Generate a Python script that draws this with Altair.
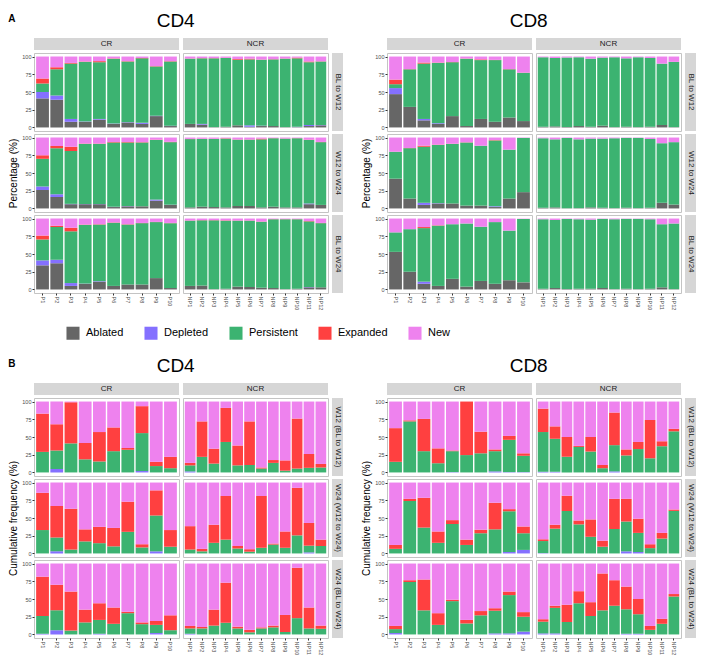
import altair as alt
import pandas as pd

FONT = "Liberation Sans"
CATS = ["Ablated", "Depleted", "Persistent", "Expanded", "New"]
COLORS = ["#666666", "#8470FF", "#3CB371", "#FF4040", "#EE82EE"]
CR_IDS = ["P1", "P2", "P3", "P4", "P5", "P6", "P7", "P8", "P9", "P10"]
NCR_IDS = ["NP1", "NP2", "NP3", "NP4", "NP5", "NP6", "NP7", "NP8", "NP9", "NP10", "NP11", "NP12"]
ROWS_A = ["BL to W12", "W12 to W24", "BL to W24"]
ROWS_B = ["W12 (BL to W12)", "W24 (W12 to W24)", "W24 (BL to W24)"]

# ---------------- Panel A : Percentage (%) ----------------
A_CD4_CR = {
    "BL to W12": {
        "Ablated":    [41, 39, 8, 8, 11, 5, 7, 5, 16, 2],
        "Depleted":   [9, 6, 4, 0.5, 1, 0.5, 0.5, 1.5, 0.5, 0.5],
        "Persistent": [12, 37, 78, 84, 80, 91.5, 85.5, 91, 69.5, 90.5],
        "Expanded":   [7, 3, 1, 0.5, 1.5, 0.5, 0.5, 0.5, 0.5, 0.5],
        "New":        [31, 15, 9, 7, 6.5, 2.5, 6.5, 2, 13.5, 6.5],
    },
    "W12 to W24": {
        "Ablated":    [26, 16, 6, 6, 6, 2, 3, 3, 11, 5],
        "Depleted":   [5, 4, 0.5, 0.3, 0.3, 0.3, 0.3, 0, 1.5, 0.3],
        "Persistent": [39, 65, 74.5, 84.7, 84.7, 90.7, 89.7, 90, 84, 88.2],
        "Expanded":   [5, 3, 6, 0.5, 0.5, 0.7, 0.7, 0.5, 0.5, 0.5],
        "New":        [25, 12, 13, 8.5, 8.5, 6.3, 6.3, 6.5, 3, 6],
    },
    "BL to W24": {
        "Ablated":    [34, 37, 5, 8, 11, 5, 7, 7, 16, 2],
        "Depleted":   [7, 5, 4, 0.3, 0.7, 0, 0, 0, 0, 0],
        "Persistent": [29.5, 46, 73, 82.7, 79.8, 89, 84.5, 86.5, 79, 91.5],
        "Expanded":   [5.5, 2, 5, 0.5, 0.5, 0.5, 0.5, 0.3, 0.3, 0.3],
        "New":        [24, 10, 13, 8.5, 8, 5.5, 8, 6.2, 4.7, 6.2],
    },
}
A_CD4_NCR = {
    "BL to W12": {
        "Ablated":    [5, 4, 0.5, 1, 3, 1, 2, 2, 0.5, 0.5, 2, 3],
        "Depleted":   [0, 1, 0, 0, 0, 2, 0.5, 0, 0, 0.5, 1.5, 0.5],
        "Persistent": [92, 92.5, 97, 97, 92.5, 93, 93, 94, 96.5, 96.5, 88.5, 89.5],
        "Expanded":   [0.3, 0.3, 0.3, 0.3, 1, 1, 0.3, 0.3, 0.3, 1, 1, 0.3],
        "New":        [2.7, 2.2, 2.2, 1.7, 3.5, 3, 4.2, 3.7, 2.7, 1.5, 7, 6.7],
    },
    "W12 to W24": {
        "Ablated":    [1.5, 2.5, 2, 1.5, 3.5, 3.5, 1.5, 2.5, 1.5, 1.5, 6, 5],
        "Depleted":   [0, 0, 0, 0, 0, 0, 0, 0, 0, 0, 1, 0],
        "Persistent": [96.3, 95.5, 96, 97, 93.5, 93.5, 96, 96.5, 97, 97.5, 89.5, 88.5],
        "Expanded":   [0.3, 0.3, 0.3, 0.5, 0.3, 0.3, 1, 0.2, 0.2, 0.2, 0.5, 0.3],
        "New":        [1.9, 1.7, 1.7, 1, 2.7, 2.7, 1.5, 0.8, 1.3, 0.8, 3, 6.2],
    },
    "BL to W24": {
        "Ablated":    [5, 5.5, 0.5, 1, 4, 3.5, 2.5, 2, 0.5, 1, 3, 3],
        "Depleted":   [0, 0, 0, 0, 0, 0, 0, 0, 0, 0, 0.5, 0],
        "Persistent": [92, 92, 97, 96, 93, 93.5, 93, 97, 98.5, 98, 92.5, 90.5],
        "Expanded":   [0.3, 0.3, 0.3, 0.5, 0.3, 0.3, 0.3, 0.2, 0.2, 0.2, 0.5, 0.3],
        "New":        [2.7, 2.2, 2.2, 2.5, 2.7, 2.7, 4.2, 0.8, 0.8, 0.8, 3.5, 6.2],
    },
}
A_CD8_CR = {
    "BL to W12": {
        "Ablated":    [47, 29, 10, 5, 16, 2, 12, 8, 14, 9],
        "Depleted":   [8.5, 0, 2, 1, 0, 0, 0, 0, 0, 0],
        "Persistent": [5.5, 53, 78, 85, 76, 95, 83, 87, 68, 68],
        "Expanded":   [6.5, 0.3, 1.5, 0.5, 0.3, 0.3, 1, 0.3, 0.3, 0.3],
        "New":        [32.5, 17.7, 8.5, 8.5, 7.7, 2.7, 4, 4.7, 17.7, 22.7],
    },
    "W12 to W24": {
        "Ablated":    [42, 14, 5, 7, 7, 4, 4, 2, 14, 23],
        "Depleted":   [0, 0, 3, 0.5, 0, 0, 0, 1, 0, 0],
        "Persistent": [38, 71, 79, 82, 84, 89, 84.5, 93, 69, 76.5],
        "Expanded":   [0, 0.3, 1.5, 0.5, 0.3, 0.3, 0, 0.5, 0, 0],
        "New":        [20, 14.7, 11.5, 10, 8.7, 6.7, 11.5, 3.5, 17, 0.5],
    },
    "BL to W24": {
        "Ablated":    [53, 25, 8, 5, 15, 4, 12, 8, 13, 10],
        "Depleted":   [0, 0, 3, 0, 0, 0, 0, 0, 0, 0],
        "Persistent": [27.5, 60, 75.5, 85, 77, 89, 76.5, 87, 70, 89.5],
        "Expanded":   [0, 0, 1.5, 0.5, 0, 0, 0, 0, 0, 0],
        "New":        [19.5, 15, 12, 9.5, 8, 7, 11.5, 5, 17, 0.5],
    },
}
A_CD8_NCR = {
    "BL to W12": {
        "Ablated":    [1, 1.5, 0.5, 2, 1, 2.5, 0.5, 1, 0.5, 1, 3.5, 0.5],
        "Depleted":   [0, 0, 0, 0, 0, 0, 0, 0, 0, 0, 0, 0],
        "Persistent": [98, 96.5, 98, 97, 96, 96, 98.5, 96.5, 98.5, 97, 86.5, 92],
        "Expanded":   [0, 0, 0, 0, 0, 0, 0, 0, 0, 0, 0, 0],
        "New":        [1, 2, 1.5, 1, 3, 1.5, 1, 2.5, 1, 2, 10, 7.5],
    },
    "W12 to W24": {
        "Ablated":    [1, 1.5, 0.3, 0.5, 1.5, 1, 0.5, 1, 0.5, 1, 8, 5.5],
        "Depleted":   [0, 0, 0, 0, 0, 0, 0, 0, 0, 0, 0, 0],
        "Persistent": [98, 96, 99.2, 97, 97, 97.5, 98.5, 98.5, 99, 97, 84, 88],
        "Expanded":   [0, 0, 0, 0, 0, 0, 0, 0, 0, 0, 0, 0],
        "New":        [1, 2.5, 0.5, 2.5, 1.5, 1.5, 1, 0.5, 0.5, 2, 8, 6.5],
    },
    "BL to W24": {
        "Ablated":    [1, 2, 0.5, 1, 1, 2, 0.5, 1, 0.5, 1, 3, 0.5],
        "Depleted":   [0, 0, 0, 0, 0, 0, 0, 0, 0, 0, 0, 0],
        "Persistent": [98, 96, 99, 98, 97.5, 97.5, 98.5, 98.5, 99, 98, 89, 92.5],
        "Expanded":   [0, 0, 0, 0, 0, 0, 0, 0, 0, 0, 0, 0],
        "New":        [1, 2, 0.5, 1, 1.5, 0.5, 1, 0.5, 0.5, 1, 8, 7],
    },
}

# ---------------- Panel B : Cumulative frequency (%) ----------------
B_CD4_CR = {
    "W12 (BL to W12)": {
        "Depleted":   [0, 5, 0, 0, 0, 0, 0, 2, 0, 0],
        "Persistent": [29, 26, 41, 18.5, 15.5, 30, 32, 53.5, 9, 6],
        "Expanded":   [54, 37, 58, 23, 41.5, 33.5, 2.5, 38, 6, 16],
        "New":        [17, 32, 1, 58.5, 43, 36.5, 65.5, 6.5, 85, 78],
    },
    "W24 (W12 to W24)": {
        "Depleted":   [0, 3, 0, 0, 0, 0, 0, 0, 3, 0],
        "Persistent": [33, 19.5, 5.5, 17, 14.5, 10, 30.5, 8.5, 50.5, 9.5],
        "Expanded":   [52.5, 44.5, 57.5, 17, 23, 26, 42.5, 4.5, 35.5, 23.5],
        "New":        [14.5, 33, 37, 66, 62.5, 64, 27, 87, 11, 67],
    },
    "W24 (BL to W24)": {
        "Depleted":   [1, 6, 0, 0, 1, 0, 0, 0, 2, 0],
        "Persistent": [25, 28, 5.5, 17, 19.5, 15, 30, 14.5, 11.5, 6],
        "Expanded":   [55.5, 36, 55, 18, 23.5, 23, 2, 2.5, 5.5, 21],
        "New":        [18.5, 30, 39.5, 65, 56, 62, 68, 83, 81, 73],
    },
}
B_CD4_NCR = {
    "W12 (BL to W12)": {
        "Depleted":   [1.5, 0, 0, 0, 0, 0, 0, 0, 0, 0, 0, 0],
        "Persistent": [8.5, 22, 12.5, 43, 10, 10.5, 5.5, 13.5, 2.5, 5.5, 6.5, 7],
        "Expanded":   [3.5, 50, 21, 48, 28, 61.5, 1.5, 4, 14.5, 70.5, 19.5, 5],
        "New":        [86.5, 28, 66.5, 9, 62, 28, 93, 82.5, 83, 24, 74, 88],
    },
    "W24 (W12 to W24)": {
        "Depleted":   [0, 0, 0, 0, 0, 0, 0, 0, 0, 0, 1.5, 0],
        "Persistent": [5.5, 3, 15, 19.5, 7, 2.5, 8, 12.5, 8, 25.5, 9.5, 10.5],
        "Expanded":   [33, 3.5, 25.5, 61.5, 3.5, 3.5, 73, 1.5, 23, 67, 32, 9],
        "New":        [61.5, 93.5, 59.5, 19, 89.5, 94, 19, 86, 69, 7.5, 57, 80.5],
    },
    "W24 (BL to W24)": {
        "Depleted":   [1, 0, 0, 0, 0, 0, 0, 0, 0, 0, 0, 0],
        "Persistent": [7.5, 8.5, 12.5, 16.5, 8.5, 3, 8.5, 10, 3.5, 23, 8.5, 8],
        "Expanded":   [3.5, 2, 22.5, 56.5, 2.5, 3.5, 1.5, 2.5, 24, 71, 29.5, 4.5],
        "New":        [88, 89.5, 65, 27, 89, 93.5, 90, 87.5, 72.5, 6, 62, 87.5],
    },
}
B_CD8_CR = {
    "W12 (BL to W12)": {
        "Depleted":   [0, 0, 0, 0, 0.5, 0, 0, 1.5, 0.5, 0.5],
        "Persistent": [15, 72, 30, 13, 29.5, 24.5, 27, 28.5, 45.5, 23],
        "Expanded":   [47.5, 1.5, 45.5, 21, 1, 75.5, 30.5, 2.5, 5.5, 3.5],
        "New":        [37.5, 26.5, 24.5, 66, 69, 0, 42.5, 67.5, 48.5, 73],
    },
    "W24 (W12 to W24)": {
        "Depleted":   [0, 0, 0, 0, 0, 0, 0, 0, 2, 5],
        "Persistent": [6.5, 74, 36.5, 15, 41.5, 12, 28.5, 34, 57.5, 23.5],
        "Expanded":   [5.5, 3, 42, 16, 5.5, 7.5, 5, 37.5, 3, 9.5],
        "New":        [88, 23, 21.5, 69, 53, 80.5, 66.5, 28.5, 37.5, 62],
    },
    "W24 (BL to W24)": {
        "Depleted":   [2, 0, 0, 0, 0, 0, 0, 1.5, 1.5, 4],
        "Persistent": [5.5, 74, 34, 13.5, 47, 15.5, 27, 32, 54, 21],
        "Expanded":   [4.5, 2.5, 43.5, 16.5, 2, 5, 6, 3.5, 5, 6.5],
        "New":        [88, 23.5, 22.5, 70, 51, 79.5, 67, 63, 39.5, 68.5],
    },
}
B_CD8_NCR = {
    "W12 (BL to W12)": {
        "Depleted":   [1, 1, 0, 0, 0, 0, 1.5, 0, 0, 0, 0, 0],
        "Persistent": [56, 46.5, 22, 36, 29.5, 6, 37, 24, 33, 20, 37, 58],
        "Expanded":   [33, 17.5, 28, 1.5, 20.5, 4.5, 46, 8.5, 10, 54, 7, 3.5],
        "New":        [10, 35, 50, 62.5, 50, 89.5, 15.5, 67.5, 57, 26, 56, 38.5],
    },
    "W24 (W12 to W24)": {
        "Depleted":   [0.5, 0, 0, 0, 0, 0, 0, 3, 2, 0, 0, 0],
        "Persistent": [17, 35, 60, 41, 23.5, 9.5, 34.5, 42, 27, 7.5, 21, 60],
        "Expanded":   [2.5, 5.5, 21.5, 5.5, 24.5, 8.5, 42.5, 32, 20, 5.5, 8, 2],
        "New":        [80, 59.5, 18.5, 53.5, 52, 82, 23, 23, 51, 87, 71, 38],
    },
    "W24 (BL to W24)": {
        "Depleted":   [1.5, 1.5, 0, 0, 0, 0, 0, 1, 1, 0, 0, 0],
        "Persistent": [16.5, 36, 17.5, 44, 26, 34, 40.5, 34.5, 27.5, 6.5, 15, 53.5],
        "Expanded":   [3.5, 3, 24.5, 17, 19.5, 52, 36, 32, 21.5, 5.5, 7, 3.5],
        "New":        [78.5, 59.5, 58, 39, 54.5, 14, 23.5, 32.5, 50, 88, 78, 43],
    },
}

# ---------------- layout constants ----------------
W = 145      # facet cell width
H = 78       # facet cell height
SH = 12      # strip height
SW = 11      # row strip width
STRIP_FILL = "#D6D6D6"
BORDER = "#C4C4C4"


def to_long(data, ids):
    recs = []
    for rlab, series in data.items():
        for cat, vals in series.items():
            for pid, v in zip(ids, vals):
                recs.append({"row": rlab, "patient": pid, "category": cat,
                             "value": v, "ord": CATS.index(cat)})
    return pd.DataFrame(recs)


LEGEND = alt.Legend(orient="none", legendX=32, legendY=288,
                    direction="horizontal", title=None,
                    symbolType="square", symbolSize=170, symbolStrokeWidth=0,
                    labelFontSize=11, labelFont=FONT, labelOffset=6,
                    columnPadding=20)


def cell(df, ids, show_x, show_y, ytitle, with_legend):
    x_axis = alt.Axis(labelAngle=90, labelFontSize=5.5, labelColor="#4D4D4D",
                      tickSize=2, tickColor="#333333", labelPadding=1,
                      domain=False, title=None, labelFont=FONT) if show_x else None
    y_axis = alt.Axis(values=[0, 25, 50, 75, 100], labelFontSize=5.5,
                      labelColor="#4D4D4D", tickSize=2, tickColor="#333333",
                      labelPadding=1, domain=False, grid=False,
                      title=ytitle, titleFontSize=10, titleFont=FONT,
                      titleFontWeight="normal", titleColor="#000000",
                      titlePadding=3, labelFont=FONT) if show_y else None
    return alt.Chart(df).mark_bar().encode(
        x=alt.X("patient:N", sort=ids, axis=x_axis,
                scale=alt.Scale(paddingInner=0.1, paddingOuter=0.15)),
        y=alt.Y("value:Q", stack="zero", axis=y_axis,
                scale=alt.Scale(domain=[-5, 105], nice=False, zero=False)),
        color=alt.Color("category:N", scale=alt.Scale(domain=CATS, range=COLORS),
                        legend=LEGEND if with_legend else None),
        order=alt.Order("ord:Q", sort="ascending"),
    ).properties(width=W, height=H,
                 view=alt.ViewBackground(stroke=BORDER, strokeWidth=1, fill="white"))


def strip(label, w, h, angle):
    return alt.Chart(pd.DataFrame({"t": [label]})).mark_text(
        angle=angle, fontSize=8, color="#1A1A1A", font=FONT, baseline="middle"
    ).encode(text="t:N").properties(
        width=w, height=h, view=alt.ViewBackground(fill=STRIP_FILL, stroke=None))


def blank(w, h):
    return alt.Chart(pd.DataFrame({"t": [""]})).mark_text().encode(
        text="t:N").properties(width=w, height=h,
                               view=alt.ViewBackground(stroke=None, fill=None))


def panel(title, d_cr, d_ncr, rows, ytitle, with_legend):
    df_cr = to_long(d_cr, CR_IDS)
    df_ncr = to_long(d_ncr, NCR_IDS)
    charts = [strip("CR", W, SH, 0), strip("NCR", W, SH, 0), blank(SW, SH)]
    for i, r in enumerate(rows):
        last = i == len(rows) - 1
        charts.append(cell(df_cr[df_cr["row"] == r], CR_IDS, last, True,
                           ytitle if i == 1 else None, with_legend))
        charts.append(cell(df_ncr[df_ncr["row"] == r], NCR_IDS, last, False,
                           None, with_legend))
        charts.append(strip(r, SW, H, 90))
    return alt.concat(*charts, columns=3, bounds="flush",
                      spacing={"row": 3, "column": 4},
                      title=alt.TitleParams(title, fontSize=19, font=FONT,
                                            fontWeight="normal", color="#000000",
                                            anchor="middle", offset=7))


rowA = alt.hconcat(
    panel("CD4", A_CD4_CR, A_CD4_NCR, ROWS_A, "Percentage (%)", True),
    panel("CD8", A_CD8_CR, A_CD8_NCR, ROWS_A, "Percentage (%)", True),
    spacing=18,
    title=alt.TitleParams("A", anchor="start", fontSize=10, fontWeight="bold",
                          font=FONT, dy=16),
)
rowB = alt.hconcat(
    panel("CD4", B_CD4_CR, B_CD4_NCR, ROWS_B, "Cumulative frequency (%)", False),
    panel("CD8", B_CD8_CR, B_CD8_NCR, ROWS_B, "Cumulative frequency (%)", False),
    spacing=18,
    title=alt.TitleParams("B", anchor="start", fontSize=10, fontWeight="bold",
                          font=FONT, dy=16),
)

chart = alt.vconcat(rowA, rowB, spacing=17).resolve_scale(
    color="independent"
).properties(padding={"top": 4, "left": 0, "right": 0, "bottom": 0}).configure(font=FONT)

chart.save("out.html", embed_options={"renderer": "svg", "actions": False})
